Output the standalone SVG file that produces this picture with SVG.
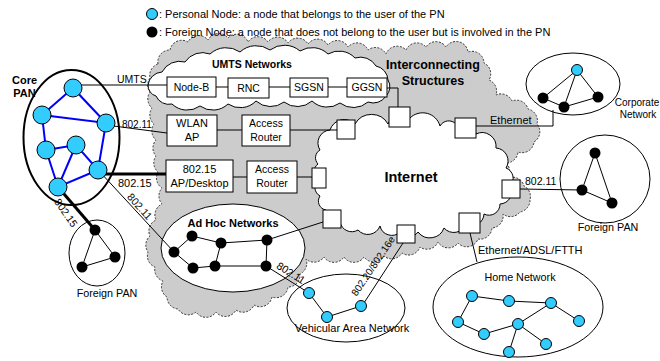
<svg xmlns="http://www.w3.org/2000/svg" width="660" height="361" viewBox="0 0 660 361">
<style>
  .t { font-family: "Liberation Sans", Arial, Helvetica, sans-serif; fill: #000; }
  .b { font-weight: bold; }
  .box { fill: #fff; stroke: #000; stroke-width: 1; }
  .ln { stroke: #000; stroke-width: 1; fill: none; }
  .thick { stroke: #000; stroke-width: 3; fill: none; }
  .blue { stroke: #0000ff; stroke-width: 2; fill: none; }
  .pn { fill: #33ccff; stroke: #000; stroke-width: 1; }
  .fn { fill: #000; }
  .net { fill: #fff; stroke: #000; stroke-width: 1; }
  .ring { fill: none; stroke: #000; stroke-width: 1; }
</style>
<rect width="660" height="361" fill="#fff"/>

<!-- Interconnecting structures (grey dashed cloud) -->
<g id="interconnect">
  <path fill="#cccccc" stroke="#333" stroke-width="1" stroke-dasharray="2,1.5" d="M158,64 A12,12 0 0 1 170,50 A12,12 0 0 1 188,42 A12,12 0 0 1 208,40 A12,12 0 0 1 228,38 A12,12 0 0 1 248,42 A12,12 0 0 1 268,42 A12,12 0 0 1 288,43 A12,12 0 0 1 308,44 A12,12 0 0 1 328,45 A12,12 0 0 1 348,47 A12,12 0 0 1 368,50 A12,12 0 0 1 386,54 A12,12 0 0 1 406,50 A12,12 0 0 1 426,47 A12,12 0 0 1 446,47 A12,12 0 0 1 468,52 A12,12 0 0 1 484,63 A12,12 0 0 1 489,80 A12,12 0 0 1 496,95 A12,12 0 0 1 512,101 A12,12 0 0 1 528,109 A12,12 0 0 1 537,124 A12,12 0 0 1 534,142 A12,12 0 0 1 518,152 A12,12 0 0 1 506,163 A12,12 0 0 1 508,178 A12,12 0 0 1 524,186 A12,12 0 0 1 530,200 A12,12 0 0 1 520,212 A12,12 0 0 1 503,214 A12,12 0 0 1 492,228 A12,12 0 0 1 478,239 A12,12 0 0 1 458,243 A12,12 0 0 1 438,242 A12,12 0 0 1 420,247 A12,12 0 0 1 402,253 A12,12 0 0 1 384,256 A12,12 0 0 1 364,257 A12,12 0 0 1 344,257 A12,12 0 0 1 324,257 A12,12 0 0 1 306,259 A12,12 0 0 1 300,274 A12,12 0 0 1 288,287 A12,12 0 0 1 272,297 A12,12 0 0 1 254,305 A12,12 0 0 1 236,310 A12,12 0 0 1 216,312 A12,12 0 0 1 196,312 A12,12 0 0 1 178,309 A12,12 0 0 1 167,297 A12,12 0 0 1 163,281 A12,12 0 0 1 155,267 A12,12 0 0 1 148,252 A12,12 0 0 1 150,236 A12,12 0 0 1 156,220 A12,12 0 0 1 162,204 A12,12 0 0 1 162,188 A12,12 0 0 1 158,172 A12,12 0 0 1 156,156 A12,12 0 0 1 156,140 A12,12 0 0 1 154,124 A12,12 0 0 1 152,108 A12,12 0 0 1 150,92 A12,12 0 0 1 150,78 A12,12 0 0 1 158,64 Z"/>
  <text class="t b" x="433" y="69" font-size="12.5" text-anchor="middle">Interconnecting</text>
  <text class="t b" x="433" y="85" font-size="12.5" text-anchor="middle">Structures</text>
</g>

<!-- UMTS cloud -->
<g id="umts-net">
  <path class="net" d="M148,85 A15,15 0 0 1 162,72 A20,20 0 0 1 185,62 A21,21 0 0 1 210,54 A24,24 0 0 1 240,52 A24,24 0 0 1 270,50 A24,24 0 0 1 300,51 A23,23 0 0 1 328,54 A22,22 0 0 1 355,58 A18,18 0 0 1 376,66 A15,15 0 0 1 388,80 A13,13 0 0 1 386,96 A15,15 0 0 1 368,102 A22,22 0 0 1 340,103 A22,22 0 0 1 312,101 A22,22 0 0 1 284,102 A22,22 0 0 1 256,101 A22,22 0 0 1 228,104 A22,22 0 0 1 200,106 A22,22 0 0 1 172,104 A14,14 0 0 1 156,96 A11,11 0 0 1 148,85 Z"/>
  <text class="t b" x="252" y="68" font-size="10.5" text-anchor="middle">UMTS Networks</text>
</g>

<!-- Internet cloud -->
<g id="internet">
  <path class="net" d="M330,130 A15,15 0 0 1 355,124 A19,19 0 0 1 388,124 A14,14 0 0 1 410,118 A18,18 0 0 1 440,126 A10,10 0 0 1 456,124 A13,13 0 0 1 476,134 A14,14 0 0 1 496,148 A13,13 0 0 1 506,168 A11,11 0 0 1 510,186 A12,12 0 0 1 500,204 A11,11 0 0 1 484,214 A12,12 0 0 1 466,224 A13,13 0 0 1 444,228 A15,15 0 0 1 418,232 A11,11 0 0 1 400,232 A12,12 0 0 1 380,226 A13,13 0 0 1 358,230 A12,12 0 0 1 340,222 A11,11 0 0 1 326,210 A9,9 0 0 1 320,196 A10,10 0 0 1 318,180 A10,10 0 0 1 318,164 A9,9 0 0 1 320,150 A13,13 0 0 1 330,130 Z"/>
  <text class="t b" x="411" y="182" font-size="14.5" text-anchor="middle">Internet</text>
</g>

<!-- network outlines -->
<g id="core-pan-outline"><ellipse cx="71.5" cy="137.5" rx="48" ry="67.5" fill="none" stroke="#000" stroke-width="2"/></g>
<g id="ad-hoc-outline"><ellipse cx="233" cy="248" rx="72" ry="44" class="net"/></g>
<g id="vehicular-outline"><ellipse cx="346" cy="308" rx="59" ry="34" class="ring"/></g>
<g id="home-outline"><ellipse cx="518" cy="307" rx="85" ry="50" class="ring"/></g>
<g id="corporate-outline"><ellipse cx="573" cy="84" rx="47" ry="31" class="ring"/></g>
<g id="foreign-pan-left-outline"><ellipse cx="97" cy="253" rx="28" ry="33" class="ring"/></g>
<g id="foreign-pan-right-outline"><ellipse cx="605" cy="179" rx="45" ry="44" class="ring"/></g>

<!-- connectors -->
<g id="connectors">
  <!-- core PAN uplinks -->
  <path class="ln" d="M73,85 H167"/>
  <path class="ln" d="M106,125 L167,133"/>
  <path class="thick" d="M98,174 H166"/>
  <path class="ln" d="M100,172 L174,252"/>
  <path class="thick" d="M58,187 L95,230"/>
  <!-- UMTS chain -->
  <path class="ln" d="M216,87 H228 M269,87 H290 M328,87 H347"/>
  <path class="ln" d="M387,88 H398 V107"/>
  <!-- WLAN / 802.15 access -->
  <path class="ln" d="M217,130 H242 M290,130 H337"/>
  <path class="ln" d="M233,177 H247 M297,177 H312"/>
  <!-- Internet edge links -->
  <path class="ln" d="M476,126 H553 V110"/>
  <path class="ln" d="M520,189 L582,190"/>
  <path class="ln" d="M470,233 L477,262"/>
  <path class="ln" d="M403,243 L362,306"/>
  <path class="ln" d="M323,222 L267,240"/>
  <path class="ln" d="M266,266 L309,293"/>
  <!-- ad hoc mesh -->
  <path class="ln" d="M192,236 L174,252 L193,268 L215,266 L221,243 L192,236 M221,243 L267,240 L266,266 L215,266"/>
  <!-- vehicular -->
  <path class="ln" d="M309,293 L327,317 L361,306"/>
  <!-- home -->
  <path class="ln" d="M472,296 L509,301 L551,303 L579,321 M472,296 L458,322 L484,334 L518,324 L551,303 M518,324 L546,344 M518,324 L509,352"/>
  <!-- corporate -->
  <path class="ln" d="M577,70 L543,98 L564,107 L598,97 L577,70 L564,107"/>
  <!-- foreign PANs -->
  <path class="ln" d="M595,153 L582,190 L612,203 Z"/>
  <path class="ln" d="M95,230 L115,257 L82,267 Z"/>
  <!-- core PAN mesh -->
  <path class="blue" d="M73,88 L42,115 L106,123 Z M42,115 L46,150 L76,145 L98,170 L106,123 M46,150 L58,187 L98,170 M76,145 L58,187"/>
</g>

<!-- link labels -->
<g id="link-labels">
  <text class="t" x="117" y="83" font-size="10.5">UMTS</text>
  <text class="t" x="122" y="128" font-size="10">802.11</text>
  <text class="t" x="118" y="187" font-size="11">802.15</text>
  <text class="t" font-size="10.5" text-anchor="middle" transform="translate(137,209) rotate(48)">802.11</text>
  <text class="t" font-size="10.5" text-anchor="middle" transform="translate(63,215) rotate(55)">802.15</text>
  <text class="t" font-size="10.5" text-anchor="middle" transform="translate(289,276) rotate(32)">802.11</text>
  <text class="t" font-size="10" text-anchor="middle" transform="translate(376,268) rotate(-56)">802.20/802.16e</text>
  <text class="t" x="490" y="124" font-size="11">Ethernet</text>
  <text class="t" x="525" y="185" font-size="10.5">802.11</text>
  <text class="t" x="478" y="254" font-size="11">Ethernet/ADSL/FTTH</text>
</g>

<!-- UMTS elements -->
<g id="node-b"><rect class="box" x="167" y="77" width="49" height="20"/><text class="t" x="191.5" y="91" font-size="10.5" text-anchor="middle">Node-B</text></g>
<g id="rnc"><rect class="box" x="228" y="78" width="41" height="20"/><text class="t" x="248.5" y="92" font-size="10.5" text-anchor="middle">RNC</text></g>
<g id="sgsn"><rect class="box" x="290" y="78" width="38" height="19"/><text class="t" x="309" y="91" font-size="10.5" text-anchor="middle">SGSN</text></g>
<g id="ggsn"><rect class="box" x="347" y="78" width="40" height="19"/><text class="t" x="367" y="91" font-size="10.5" text-anchor="middle">GGSN</text></g>

<!-- access elements -->
<g id="wlan-ap"><rect class="box" x="167" y="115" width="50" height="31"/><text class="t" x="192" y="127" font-size="11" text-anchor="middle">WLAN</text><text class="t" x="192" y="141" font-size="11" text-anchor="middle">AP</text></g>
<g id="access-router-1"><rect class="box" x="242" y="115" width="48" height="31"/><text class="t" x="266" y="127" font-size="10.5" text-anchor="middle">Access</text><text class="t" x="266" y="141" font-size="10.5" text-anchor="middle">Router</text></g>
<g id="ap-desktop"><rect class="box" x="166" y="160" width="67" height="32"/><text class="t" x="199.5" y="173" font-size="11" text-anchor="middle">802.15</text><text class="t" x="199.5" y="187" font-size="11" text-anchor="middle">AP/Desktop</text></g>
<g id="access-router-2"><rect class="box" x="247" y="161" width="50" height="32"/><text class="t" x="272" y="173" font-size="10.5" text-anchor="middle">Access</text><text class="t" x="272" y="187" font-size="10.5" text-anchor="middle">Router</text></g>

<!-- Internet gateways -->
<g id="gateways">
  <rect class="box" x="337" y="120" width="18" height="19"/>
  <rect class="box" x="389" y="107" width="21" height="20"/>
  <rect class="box" x="455" y="118" width="21" height="20"/>
  <rect class="box" x="312" y="168" width="14" height="20"/>
  <rect class="box" x="323" y="210" width="18" height="18"/>
  <rect class="box" x="397" y="225" width="18" height="18"/>
  <rect class="box" x="459" y="213" width="21" height="20"/>
  <rect class="box" x="502" y="180" width="18" height="18"/>
</g>

<!-- Core PAN -->
<g id="core-pan">
  <circle class="pn" cx="73" cy="88" r="9"/>
  <circle class="pn" cx="42" cy="115" r="9"/>
  <circle class="pn" cx="106" cy="123" r="9"/>
  <circle class="pn" cx="46" cy="150" r="9"/>
  <circle class="pn" cx="76" cy="145" r="9"/>
  <circle class="pn" cx="98" cy="170" r="9"/>
  <circle class="pn" cx="58" cy="187" r="9"/>
  <text class="t b" x="24.5" y="84" font-size="11" text-anchor="middle">Core</text>
  <text class="t b" x="24.5" y="97" font-size="11" text-anchor="middle">PAN</text>
</g>

<!-- Ad hoc network -->
<g id="ad-hoc">
  <circle class="fn" cx="192" cy="236" r="5.5"/>
  <circle class="fn" cx="174" cy="252" r="5.5"/>
  <circle class="fn" cx="193" cy="268" r="5.5"/>
  <circle class="fn" cx="215" cy="266" r="5.5"/>
  <circle class="fn" cx="221" cy="243" r="5.5"/>
  <circle class="fn" cx="267" cy="240" r="5.5"/>
  <circle class="fn" cx="266" cy="266" r="5.5"/>
  <text class="t b" x="233" y="227" font-size="11" text-anchor="middle">Ad Hoc Networks</text>
</g>

<!-- Vehicular area network -->
<g id="vehicular">
  <circle class="pn" cx="309" cy="293" r="5.5"/>
  <circle class="pn" cx="327" cy="317" r="5.5"/>
  <circle class="pn" cx="361" cy="306" r="5.5"/>
  <text class="t" x="352" y="332" font-size="11" text-anchor="middle">Vehicular Area Network</text>
</g>

<!-- Home network -->
<g id="home">
  <circle class="pn" cx="472" cy="296" r="5.5"/>
  <circle class="pn" cx="509" cy="301" r="5.5"/>
  <circle class="pn" cx="551" cy="303" r="5.5"/>
  <circle class="pn" cx="458" cy="322" r="5.5"/>
  <circle class="pn" cx="579" cy="321" r="5.5"/>
  <circle class="pn" cx="518" cy="324" r="5.5"/>
  <circle class="pn" cx="484" cy="334" r="5.5"/>
  <circle class="pn" cx="546" cy="344" r="5.5"/>
  <circle class="pn" cx="509" cy="352" r="5.5"/>
  <text class="t" x="520" y="281" font-size="10.75" text-anchor="middle">Home Network</text>
</g>

<!-- Corporate network -->
<g id="corporate">
  <circle class="pn" cx="577" cy="70" r="5.5"/>
  <circle class="fn" cx="543" cy="98" r="5.5"/>
  <circle class="fn" cx="564" cy="107" r="5.5"/>
  <circle class="fn" cx="598" cy="97" r="5.5"/>
  <text class="t" x="637" y="106" font-size="10" text-anchor="middle">Corporate</text>
  <text class="t" x="638" y="118" font-size="10" text-anchor="middle">Network</text>
</g>

<!-- Foreign PANs -->
<g id="foreign-pan-right">
  <circle class="fn" cx="595" cy="153" r="5.5"/>
  <circle class="fn" cx="582" cy="190" r="5.5"/>
  <circle class="fn" cx="612" cy="203" r="5.5"/>
  <text class="t" x="608" y="231" font-size="10.75" text-anchor="middle">Foreign PAN</text>
</g>
<g id="foreign-pan-left">
  <circle class="fn" cx="95" cy="230" r="5.5"/>
  <circle class="fn" cx="115" cy="257" r="5.5"/>
  <circle class="fn" cx="82" cy="267" r="5.5"/>
  <text class="t" x="107" y="297" font-size="10.75" text-anchor="middle">Foreign PAN</text>
</g>

<!-- Legend -->
<g id="legend">
  <circle class="pn" cx="152" cy="14" r="5.5"/>
  <text class="t" x="159" y="18" font-size="11">: Personal Node: a node that belongs to the user of the PN</text>
  <circle class="fn" cx="152" cy="32" r="5.5"/>
  <text class="t" x="159" y="36" font-size="11">: Foreign Node: a node that does not belong to the user but is involved in the PN</text>
</g>
</svg>
